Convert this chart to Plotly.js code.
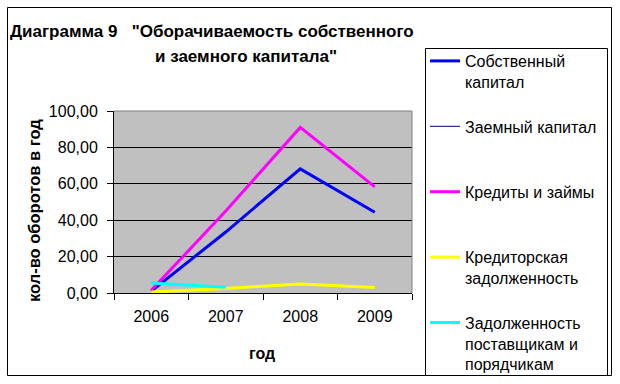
<!DOCTYPE html>
<html>
<head>
<meta charset="utf-8">
<script src="https://cdn.plot.ly/plotly-3.0.1.min.js"></script>
<style>html,body{margin:0;padding:0;background:#fff}#chart{width:620px;height:384px}</style>
</head>
<body>
<div id="chart"></div>
<script>
const years = ['2006', '2007', '2008', '2009'];
const ownCapital = [1.0, 33.5, 68.2, 44.4];
const borrowedCapital = [null, null, null, null];
const loans = [1.5, 45.0, 91.0, 58.3];
const payables = [0.5, 2.5, 5.0, 3.0];
const supplierDebt = [5.5, 3.2, null, null];

const seriesNames = [
  'Собственный<br>капитал',
  'Заемный капитал',
  'Кредиты и займы',
  'Кредиторская<br>задолженность',
  'Задолженность<br>поставщикам и<br>порядчикам'
];
const yTickVals = [0, 20, 40, 60, 80, 100];

// layout geometry (pixels)
const W = 620, H = 384, L = 114, R = 412, T = 111, B = 293;
const px = x => (x - L) / (R - L);
const py = y => (B - y) / (B - T);

const FONT = 'Liberation Sans, Arial, sans-serif';

function pad3(n) {
  const c = n.split('<br>').length;
  let s = n;
  for (let i = c; i < 3; i++) s += '<br> ';
  return s;
}

const data = [
  {x: years, y: ownCapital, name: pad3(seriesNames[0]), line: {color: '#0000FF', width: 3}},
  {x: years, y: borrowedCapital, name: pad3(seriesNames[1]), line: {color: '#000080', width: 1}},
  {x: years, y: loans, name: pad3(seriesNames[2]), line: {color: '#FF00FF', width: 3}},
  {x: years, y: payables, name: pad3(seriesNames[3]), line: {color: '#FFFF00', width: 3}},
  {x: years, y: supplierDebt, name: pad3(seriesNames[4]), line: {color: '#00FFFF', width: 3}}
].map((t, i) => Object.assign(t, {type: 'scatter', mode: 'lines', legendgroup: 'g' + i, cliponaxis: false}));

const layout = {
  width: W, height: H,
  margin: {l: L, r: W - R, t: T, b: H - B, pad: 0},
  paper_bgcolor: '#FFFFFF',
  plot_bgcolor: '#C0C0C0',
  separators: ', ',
  font: {family: FONT, size: 16, color: '#000000'},
  showlegend: true,
  legend: {
    x: px(425), xanchor: 'left', y: py(44), yanchor: 'top',
    bgcolor: 'rgba(0,0,0,0)', borderwidth: 0, maxheight: 400,
    font: {family: FONT, size: 16, color: '#000000'},
    valign: 'top', tracegroupgap: 2, traceorder: 'normal'
  },
  xaxis: {
    type: 'category', categoryorder: 'array', categoryarray: years, range: [-0.5, 3.5],
    tickson: 'boundaries', ticks: 'outside', ticklen: 6, tickcolor: '#000', tickwidth: 1,
    showline: true, linecolor: '#000', linewidth: 1, showgrid: false, zeroline: false,
    tickfont: {family: FONT, size: 16, color: '#000'}, ticklabelstandoff: 9,
    fixedrange: true
  },
  yaxis: {
    range: [0, 100], tickvals: yTickVals, tickformat: '.2f',
    ticks: 'outside', ticklen: 6, tickcolor: '#000', tickwidth: 1,
    showline: true, linecolor: '#000', linewidth: 1,
    showgrid: true, gridcolor: '#000000', gridwidth: 1, zeroline: false,
    tickfont: {family: FONT, size: 16, color: '#000'}, ticklabelstandoff: 6,
    fixedrange: true
  },
  annotations: [
    {text: '<b>Диаграмма 9   "Оборачиваемость собственного</b>', xref: 'paper', yref: 'paper',
     x: px(8), y: py(31), xanchor: 'left', yanchor: 'middle', showarrow: false,
     font: {family: FONT, size: 17, color: '#000'}},
    {text: '<b>и заемного капитала"</b>', xref: 'paper', yref: 'paper',
     x: px(246), y: py(57), xanchor: 'center', yanchor: 'middle', showarrow: false,
     font: {family: FONT, size: 17, color: '#000'}},
    {text: '<b>кол-во оборотов в год</b>', xref: 'paper', yref: 'paper', textangle: -90,
     x: px(34), y: py(211), xanchor: 'center', yanchor: 'middle', showarrow: false,
     font: {family: FONT, size: 16.5, color: '#000'}},
    {text: '<b>год</b>', xref: 'paper', yref: 'paper',
     x: px(262), y: py(353), xanchor: 'center', yanchor: 'middle', showarrow: false,
     font: {family: FONT, size: 16, color: '#000'}}
  ],
  shapes: [
    {type: 'rect', xref: 'paper', yref: 'paper', x0: px(7.5), x1: px(611.5), y0: py(7.5), y1: py(375.5),
     line: {color: '#000', width: 1}, layer: 'below'},
    {type: 'rect', xref: 'paper', yref: 'paper', x0: px(425.5), x1: px(607.5), y0: py(48.5), y1: py(375.5),
     line: {color: '#000', width: 1}, fillcolor: '#FFFFFF', layer: 'below'},
    {type: 'line', xref: 'paper', yref: 'paper', x0: 0, x1: 1, y0: 1, y1: 1,
     line: {color: '#808080', width: 1}, layer: 'above'},
    {type: 'line', xref: 'paper', yref: 'paper', x0: 1, x1: 1, y0: 0, y1: 1,
     line: {color: '#808080', width: 1}, layer: 'above'}
  ]
};

Plotly.newPlot('chart', data, layout, {displayModeBar: false, staticPlot: true});
</script>
</body>
</html>
